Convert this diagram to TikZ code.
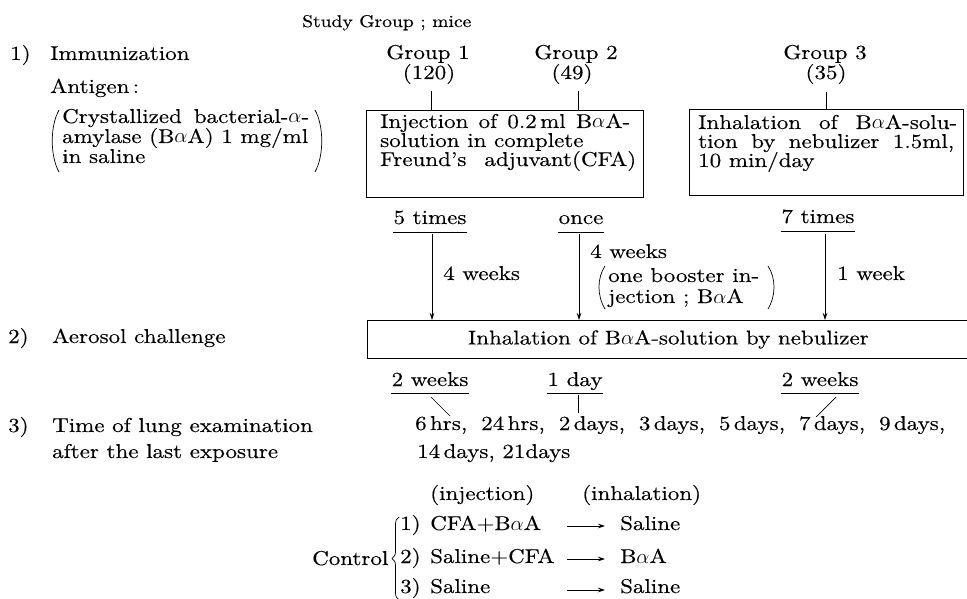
\documentclass[tikz,border=0pt]{standalone}
\usepackage{fontspec}
\setmainfont{lmroman10-regular.otf}[FakeStretch=1.15,FakeBold=0.3]
\usetikzlibrary{arrows.meta,decorations.pathreplacing}
\begin{document}
\begin{tikzpicture}[x=1pt,y=-1pt,
  t/.style={anchor=west,inner sep=0pt,text height=12pt,text depth=2pt,font=\fontsize{20}{22}\selectfont},
  tc/.style={t,anchor=center},
  ln/.style={line width=0.7pt},
  boxs/.style={draw,ln,anchor=north west,inner sep=0pt},
  arr/.style={ln,-{Stealth[length=7pt,width=4.5pt]}}]
\useasboundingbox (0,0) rectangle (967,599);
% left column
\node[t,font=\fontsize{17}{20}\selectfont] (study) at (302,22) {Study Group ; mice};
\node[t] (n1) at (10,55) {1)};
\node[t] (imm) at (50,55) {Immunization};
\node[t] (ant) at (50,88) {Antigen\,:};
\node[t] (cr1) at (62,118) {\makebox[247pt][s]{Crystallized bacterial-$\alpha$-}};
\node[t] (cr2) at (62,138) {amylase (B$\alpha$A) 1 mg/ml};
\node[t] (cr3) at (62,158) {in saline};
\draw[ln] (59,110) .. controls (50,126) and (50,156) .. (59,172);
\draw[ln] (315,110) .. controls (324,126) and (324,156) .. (315,172);
% groups
\node[tc] (g1) at (428,54) {Group 1};
\node[tc] (g1n) at (429,74) {(120)};
\node[tc] (g2) at (576,54) {Group 2};
\node[tc] (g2n) at (572,74) {(49)};
\node[tc] (g3) at (825,54) {Group 3};
\node[tc] (g3n) at (826,74) {(35)};
\node[boxs,minimum width=277pt,minimum height=87pt] (box1) at (366,110) {};
\node[boxs,minimum width=274pt,minimum height=86pt] (box3) at (689,109) {};
\coordinate (k1) at (431,91); \draw[ln] (k1) -- (k1 |- box1.north);
\coordinate (k2) at (578,91); \draw[ln] (k2) -- (k2 |- box1.north);
\coordinate (k3) at (826,92); \draw[ln] (k3) -- (k3 |- box3.north);
\node[t] (b1a) at (380,123) {\makebox[250pt][s]{Injection of 0.2\,ml B$\alpha$A-}};
\node[t] (b1b) at (380,142) {solution in complete};
\node[t] (b1c) at (380,161) {\makebox[256pt][s]{Freund’s adjuvant(CFA)}};
\node[t] (b3a) at (698,124) {\makebox[259pt][s]{Inhalation of B$\alpha$A-solu-}};
\node[t] (b3b) at (698,143) {\makebox[256pt][s]{tion by nebulizer 1.5ml,}};
\node[t] (b3c) at (698,162) {10 min/day};
% times
\node[tc] (t5) at (430,219) {5 times};
\node[tc] (t1) at (581,219) {once};
\node[tc] (t7) at (818,218) {7 times};
\foreach \n in {t5,t1,t7} \draw[ln] ([yshift=-6pt]\n.south west) -- ([yshift=-6pt]\n.south east);
\node[boxs,minimum width=602pt,minimum height=38pt,font=\fontsize{20}{22}\selectfont] (box2) at (367,320) {Inhalation of B$\alpha$A-solution by nebulizer};
\coordinate (a1) at (432,234); \draw[arr] (a1) -- (a1 |- box2.north);
\coordinate (a2) at (579,234); \draw[arr] (a2) -- (a2 |- box2.north);
\coordinate (a3) at (825,234); \draw[arr] (a3) -- (a3 |- box2.north);
\node[t] (w1) at (443,275) {4 weeks};
\node[t] (w2) at (590,253) {4 weeks};
\node[t] (bo1) at (608,277) {one booster in-};
\node[t] (bo2) at (608,298) {jection ; B$\alpha$A};
\draw[ln] (605,266) .. controls (597,278) and (597,296) .. (605,309);
\draw[ln] (768,266) .. controls (776,278) and (776,296) .. (768,309);
\node[t] (w3) at (837,275) {1 week};
\node[t] (n2) at (8,338) {2)};
\node[t] (aer) at (52,338) {Aerosol challenge};
% exam times
\node[tc] (u1) at (430,381) {2 weeks};
\node[tc] (u2) at (575,381) {1 day};
\node[tc] (u3) at (820,381) {2 weeks};
\foreach \n in {u1,u2,u3} \draw[ln] ([yshift=-5pt]\n.south west) -- ([yshift=-5pt]\n.south east);
\node[t] (tl1) at (415,425) {\makebox[530pt][s]{6\,hrs, 24\,hrs, 2\,days, 3\,days, 5\,days, 7\,days, 9\,days,}};
\node[t] (tl2) at (417,453) {14\,days, 21days};
\coordinate (d1s) at (431,397); \coordinate (d1e) at (450,416); \draw[ln] (d1s) -- (d1e);
\coordinate (d2s) at (578,395); \coordinate (d2e) at (578,413); \draw[ln] (d2s) -- (d2e);
\coordinate (d3s) at (836,397); \coordinate (d3e) at (816,417); \draw[ln] (d3s) -- (d3e);
\node[t] (n3) at (8,427) {3)};
\node[t] (tim) at (52,427) {Time of lung examination};
\node[t] (aft) at (52,453) {after the last exposure};
% control
\node[t] (inj) at (430,495) {(injection)};
\node[t] (inh) at (582,495) {(inhalation)};
\node[t] (ctl) at (312,560) {Control};
\draw[ln,decorate,decoration={brace,amplitude=7pt}] (399,600) -- (399,517);
\node[t] (r1n) at (400,525) {1)}; \node[t] (r1a) at (430,525) {CFA+B$\alpha$A}; \node[t] (r1b) at (620,525) {Saline};
\node[t] (r2n) at (400,558) {2)}; \node[t] (r2a) at (430,558) {Saline+CFA}; \node[t] (r2b) at (620,558) {B$\alpha$A};
\node[t] (r3n) at (400,588) {3)}; \node[t] (r3a) at (430,588) {Saline}; \node[t] (r3b) at (620,588) {Saline};
\coordinate (c1) at (567,526); \draw[arr,shorten >=15pt] (c1) -- (c1 -| r1b.west);
\coordinate (c2) at (567,559); \draw[arr,shorten >=15pt] (c2) -- (c2 -| r2b.west);
\coordinate (c3) at (567,590); \draw[arr,shorten >=15pt] (c3) -- (c3 -| r3b.west);
\end{tikzpicture}
\end{document}
